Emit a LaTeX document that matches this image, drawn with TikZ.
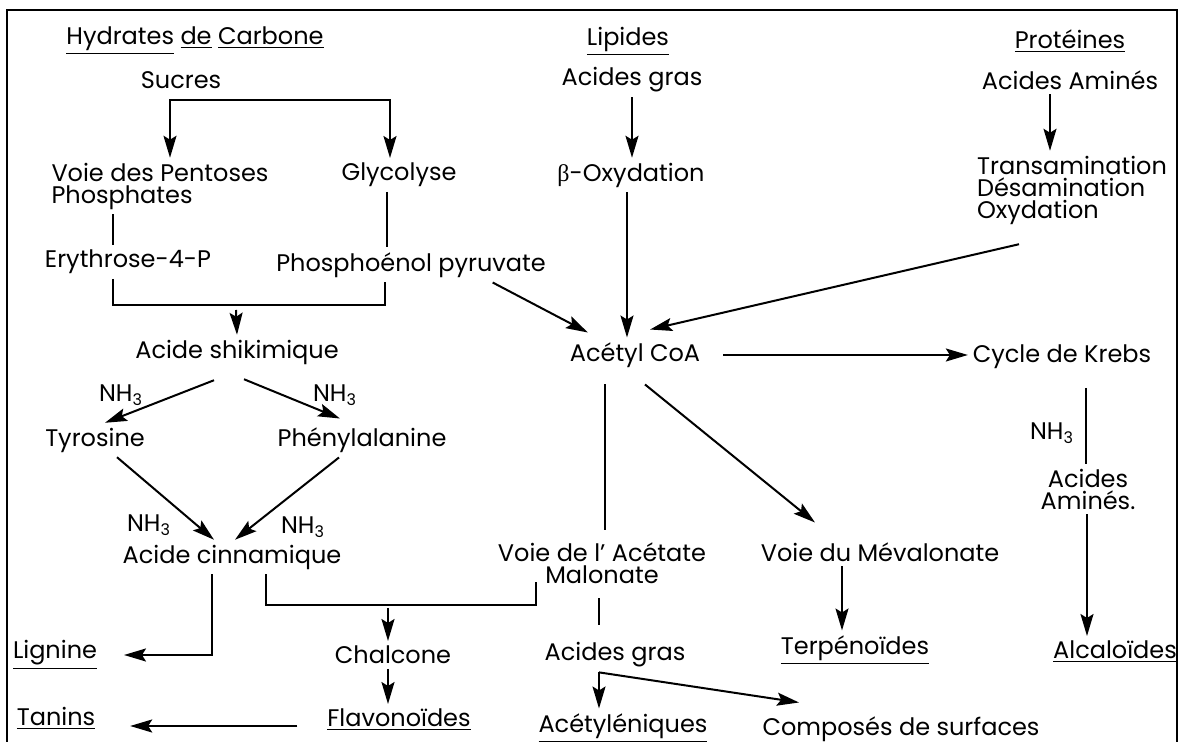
\documentclass[tikz,border=0pt]{standalone}
\usepackage{fontspec}
\setmainfont{Poppins}
\newfontfamily\grk{Liberation Serif}
\usetikzlibrary{arrows.meta}
\tikzset{
every node/.style={inner sep=2pt, font=\fontsize{12}{11}\selectfont},
arr/.style={-{Stealth[length=11pt,width=6.5pt,inset=2pt]}},
arrb/.style={{Stealth[length=11pt,width=6.5pt,inset=2pt]}-{Stealth[length=11pt,width=6.5pt,inset=2pt]}}
}
\newcommand{\nhtrois}{NH\textsubscript{3}}

\begin{document}
\begin{tikzpicture}[x=0.5pt,y=-0.5pt,line width=1pt]
\useasboundingbox (0,0) rectangle (1178,742);
\draw[line width=0.7pt] (7,742) -- (7,10) -- (1177,10) -- (1177,742);

\node (hc) at (195,41) {\underline{Hydrates} \underline{de} \underline{Carbone}};
\node (lip) at (628,41) {\underline{Lipides}};
\node (prot) at (1070,41) {\underline{Protéines}};

\node (sucres) at (181,80) {Sucres};
\node (agras) at (632,80) {Acides gras};
\node (aam) at (1070,80) {Acides Aminés};

\node[align=left] (pent) at (160,186) {Voie des Pentoses\\Phosphates};
\node (glyc) at (399,175) {Glycolyse};
\node (boxy) at (631,175) {{\grk β}-Oxydation};
\node[align=left] (trans) at (1072,190) {Transamination\\Désamination\\Oxydation};

\node (ery) at (128,262) {Erythrose-4-P};
\node (pep) at (411,265) {Phosphoénol pyruvate};

\node (shik) at (237,352) {Acide shikimique};
\node (acoa) at (635,355) {Acétyl CoA};
\node (krebs) at (1062,357) {Cycle de Krebs};

\node (nha) at (121,395) {\nhtrois};
\node (nhb) at (335,395) {\nhtrois};
\node (tyr) at (95,440) {Tyrosine};
\node (phe) at (362,440) {Phénylalanine};
\node (nhe) at (1052,433) {\nhtrois};
\node[align=center] (aam2) at (1088,489) {Acides\\Aminés.};
\node (nhc) at (149,525) {\nhtrois};
\node (nhd) at (303,527) {\nhtrois};

\node (cinn) at (232,557) {Acide cinnamique};
\node[align=center] (acet) at (602,563) {Voie de l' Acétate\\Malonate};
\node (meva) at (880,552) {Voie du Mévalonate};

\node (lig) at (55,655) {\underline{Lignine}};
\node (chal) at (393,655) {Chalcone};
\node (agras2) at (615,655) {Acides gras};
\node (terp) at (855,650) {\underline{Terpénoïdes}};
\node (alca) at (1115,652) {\underline{Alcaloïdes}};

\node (tan) at (56,718) {\underline{Tanins}};
\node (flav) at (399,720) {\underline{Flavonoïdes}};
\node (acetyl) at (623,728) {\underline{Acétyléniques}};
\node (surf) at (901,729) {Composés de surfaces};

\draw[arrb] ([xshift=5pt]pent.north) |- ([yshift=-3pt]sucres.south) -| ([xshift=-4.5pt]glyc.north);
\draw ([xshift=-23.5pt]pent.south) -- ([xshift=-7.5pt]ery.north);
\draw ([xshift=-6pt]glyc.south) -- ([xshift=-12pt]pep.north);
\coordinate (jshik) at (236,305);
\draw ([xshift=-7.5pt]ery.south) |- (jshik) -| ([xshift=-13pt]pep.south);
\draw[arr] ([yshift=-2.5pt]jshik) -- (shik.north);
\draw[arr] ([xshift=-29pt]pep.south east) -- ([xshift=11.5pt,yshift=2.5pt]acoa.north west);

\draw[arr] (agras.south) -- (agras.south |- boxy.north);
\draw[arr] ([xshift=-2pt]boxy.south) -- ([xshift=-2pt]boxy.south |- acoa.north);
\draw[arr] ([xshift=-10pt]aam.south) -- ([xshift=-10pt]aam.south |- trans.north);
\draw[arr] ([xshift=-26.5pt,yshift=-7.5pt]trans.south) -- ([xshift=-27.5pt,yshift=4pt]acoa.north east);
\draw[arr, shorten <=9pt] (acoa.east) -- (acoa.east -| krebs.west);

\draw[arr] ([xshift=-11.5pt,yshift=-5.5pt]shik.south) -- ([xshift=5pt]tyr.north);
\draw[arr] ([xshift=3.5pt,yshift=-5pt]shik.south) -- ([xshift=-11pt,yshift=2pt]phe.north);
\draw[arr] ([xshift=11pt]tyr.south) -- ([xshift=-9pt]cinn.north);
\draw[arr] ([xshift=-11.5pt]phe.south) -- ([xshift=1.5pt]cinn.north);

\draw[arr, shorten >=11pt] ([xshift=-10pt]cinn.south) |- (lig.east);
\coordinate (jchal) at (388,605);
\draw ([xshift=17pt]cinn.south) |- (jchal) -| ([xshift=21.5pt,yshift=3pt]acet.south west);
\draw[arr] ([yshift=-1.5pt]jchal) -- (jchal |- chal.north);
\draw[arr] ([xshift=-2.5pt]chal.south) -- ([xshift=-2.5pt]chal.south |- flav.north);
\draw[arr, shorten <=12.5pt, shorten >=15pt] ([yshift=-3pt]flav.west) -- ([yshift=-3pt]flav.west -| tan.east);

\draw[shorten <=6pt, shorten >=4pt] ([xshift=-15pt]acoa.south) -- ([xshift=-15pt]acoa.south |- acet.north);
\draw[shorten <=5pt, shorten >=6.5pt] ([xshift=-1.5pt]acet.south) -- ([xshift=-1.5pt]acet.south |- agras2.north);
\draw[arr] ([xshift=-8pt]agras2.south) -- ([xshift=-8pt]agras2.south |- acetyl.north);
\draw[arr] ([xshift=-8pt]agras2.south) -- ([xshift=-51pt,yshift=4.5pt]surf.north);

\draw[arr] ([xshift=5pt,yshift=-6pt]acoa.south) -- ([xshift=-32.5pt,yshift=7.5pt]meva.north);
\draw[arr] ([xshift=-19pt]meva.south) -- ([xshift=-19pt]meva.south |- terp.north);
\draw[shorten <=7pt] ([xshift=12pt]krebs.south) -- ([xshift=12pt]krebs.south |- aam2.north);
\draw[arr] ([xshift=-0.5pt]aam2.south) -- ([xshift=-0.5pt]aam2.south |- alca.north);

\end{tikzpicture}
\end{document}
